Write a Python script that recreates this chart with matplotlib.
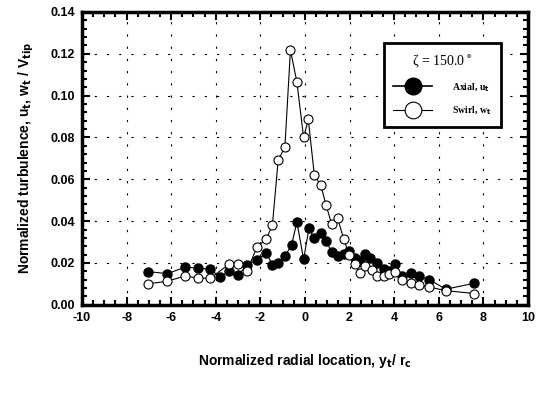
import matplotlib
matplotlib.use("Agg")
import matplotlib.pyplot as plt
from matplotlib.ticker import MultipleLocator, FormatStrFormatter
from matplotlib.lines import Line2D

plt.rcParams['font.family'] = ['Liberation Sans', 'DejaVu Sans']
plt.rcParams['axes.unicode_minus'] = False
plt.rcParams['mathtext.default'] = 'bf'

axial_x = [-7.04, -6.17, -5.37, -4.81, -4.24, -3.80, -3.41, -2.99, -2.59, -2.15,
           -1.73, -1.46, -1.20, -0.90, -0.60, -0.36, -0.06, 0.18, 0.42, 0.71,
           0.95, 1.20, 1.47, 1.73, 1.98, 2.26, 2.48, 2.71, 2.93, 3.23,
           3.53, 3.76, 4.03, 4.36, 4.74, 5.11, 5.56, 6.32, 7.59]
axial_y = [0.0159, 0.0149, 0.0180, 0.0176, 0.0170, 0.0131, 0.0163, 0.0142, 0.0192, 0.0215,
           0.0248, 0.0192, 0.0201, 0.0232, 0.0286, 0.0396, 0.0217, 0.0366, 0.0318, 0.0342,
           0.0307, 0.0251, 0.0234, 0.0244, 0.0258, 0.0223, 0.0208, 0.0244, 0.0223, 0.0201,
           0.0173, 0.0163, 0.0197, 0.0138, 0.0152, 0.0138, 0.0121, 0.0075, 0.0103]

swirl_x = [-7.04, -6.17, -5.37, -4.81, -4.24, -3.41, -2.99, -2.59, -2.15, -1.73,
           -1.46, -1.20, -0.90, -0.65, -0.36, -0.06, 0.15, 0.42, 0.71, 0.95,
           1.20, 1.47, 1.73, 1.98, 2.26, 2.48, 2.71, 3.01, 3.23, 3.53,
           3.76, 4.03, 4.36, 4.74, 5.11, 5.56, 6.32, 7.59]
swirl_y = [0.0100, 0.0113, 0.0138, 0.0128, 0.0127, 0.0194, 0.0197, 0.0164, 0.0276, 0.0317,
           0.0380, 0.0692, 0.0753, 0.1218, 0.1064, 0.0800, 0.0886, 0.0621, 0.0572, 0.0476,
           0.0385, 0.0413, 0.0317, 0.0240, 0.0194, 0.0152, 0.0187, 0.0166, 0.0138, 0.0138,
           0.0149, 0.0159, 0.0117, 0.0103, 0.0096, 0.0085, 0.0068, 0.0054]

fig = plt.figure(figsize=(5.46, 3.99), dpi=100)
ax = fig.add_axes([0.150, 0.236, 0.817, 0.734])

ax.plot(axial_x, axial_y, '-', color='black', lw=0.8, marker='o', ms=6.5,
        mfc='black', mec='black', zorder=3)
ax.plot(swirl_x, swirl_y, '-', color='black', lw=0.8, marker='o', ms=6.5,
        mfc='white', mec='black', mew=0.8, zorder=3)

ax.set_xlim(-10, 10)
ax.set_ylim(0, 0.14)
ax.xaxis.set_major_locator(MultipleLocator(2))
ax.xaxis.set_minor_locator(MultipleLocator(0.5))
ax.yaxis.set_major_locator(MultipleLocator(0.02))
ax.yaxis.set_minor_locator(MultipleLocator(0.004))
ax.yaxis.set_major_formatter(FormatStrFormatter('%.2f'))

ax.tick_params(which='both', direction='in', top=True, right=True, width=1.5)
ax.tick_params(which='major', length=6, labelsize=9, pad=5)
ax.tick_params(which='minor', length=3.5)
for lab in ax.get_xticklabels() + ax.get_yticklabels():
    lab.set_fontweight('bold')

for s in ax.spines.values():
    s.set_linewidth(2.5)

ax.grid(True, which='major', color='black', lw=0.8, linestyle=(0, (2, 9)))

ax.set_xlabel('Normalized radial location, y$_t$/ r$_c$', fontsize=10,
              fontweight='bold', labelpad=20)
ax.set_ylabel('Normalized turbulence, u$_t$, w$_t$ / V$_{tip}$', fontsize=10,
              fontweight='bold', labelpad=10)

handles = [
    Line2D([0], [0], color='black', lw=1.2, marker='o', ms=12, mfc='black', mec='black'),
    Line2D([0], [0], color='black', lw=0.8, marker='o', ms=12, mfc='white', mec='black', mew=0.8),
]
leg = ax.legend(handles, ['Axial, u$_t$', 'Swirl, w$_t$'], loc='upper right',
                bbox_to_anchor=(0.95, 0.91), title='ζ = 150.0$^\\circ$',
                fancybox=False, framealpha=1, edgecolor='black',
                prop={'family': 'Liberation Serif', 'weight': 'bold', 'size': 7},
                handlelength=4.0, borderpad=1.0, labelspacing=1.1,
                handletextpad=2.0)
leg.get_title().set_fontfamily('Liberation Serif')
leg.get_title().set_fontsize(10)
leg.get_frame().set_linewidth(2.0)

fig.savefig('out.png', dpi=100)
